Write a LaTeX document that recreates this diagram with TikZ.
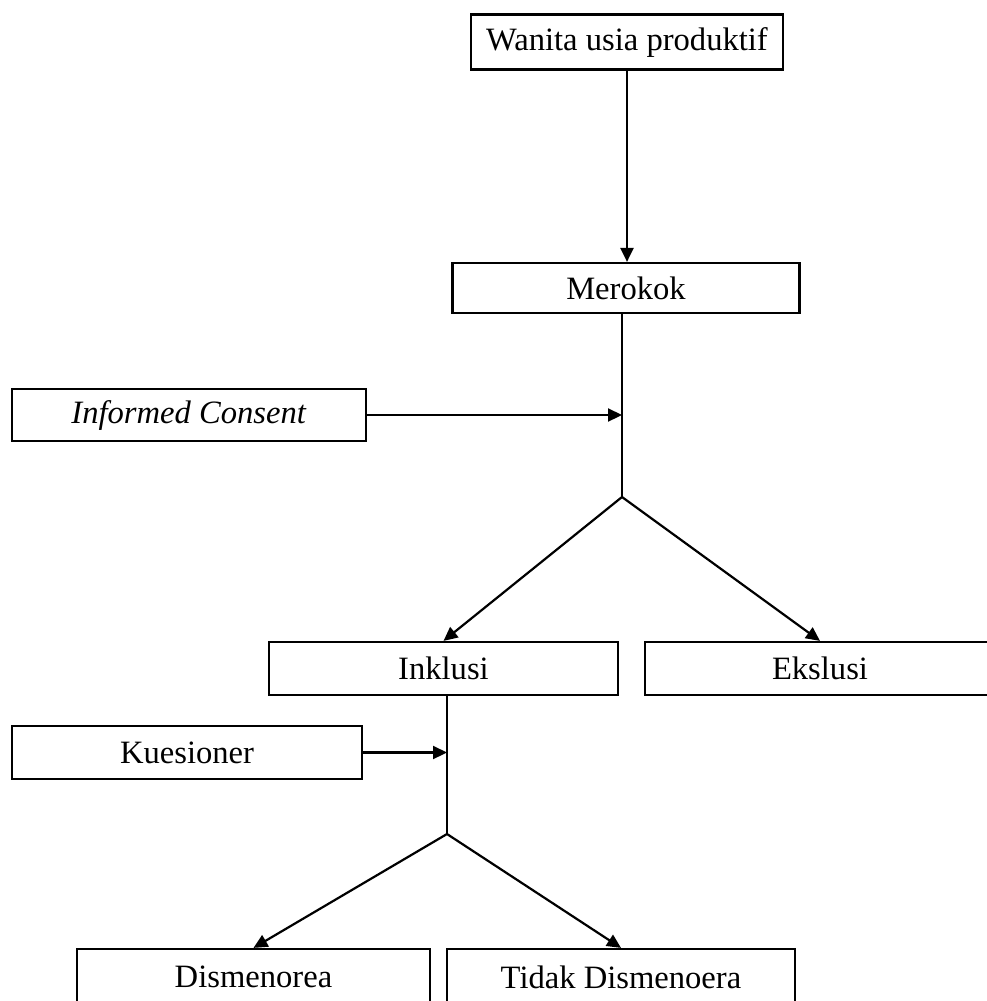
\documentclass[tikz,border=0pt]{standalone}
\usepackage{fontspec}
\setmainfont{Liberation Serif}
\usetikzlibrary{arrows.meta}
\begin{document}
\begin{tikzpicture}[x=1pt,y=-1pt,
  box/.style={draw, line width=2.2pt, minimum height=53pt, inner sep=0pt, font=\fontsize{32.6pt}{38pt}\selectfont},
  conn/.style={line width=2.2pt},
  arr/.style={conn, -{Triangle[length=14pt,width=13pt]}}]
\useasboundingbox (0,0) rectangle (987,1001);
\clip (0,0) rectangle (987,1001);
\node[box, minimum width=312pt, minimum height=55pt] (wanita) at (627,42) {Wanita usia produktif};
\node[box, minimum width=347pt, minimum height=50pt] (merokok) at (626,288) {Merokok};
\node[box, minimum width=354pt, minimum height=52pt] (ic) at (189,415) {\textit{Informed Consent}};
\node[box, minimum width=349pt] (inklusi) at (443.5,668.5) {Inklusi};
\node[box, minimum width=350pt] (ekslusi) at (820,668.5) {Ekslusi};
\node[box, minimum width=350pt] (kues) at (187,752.5) {Kuesioner};
\node[box, minimum width=353pt, minimum height=56pt] (dis) at (253.5,977) {Dismenorea};
\node[box, minimum width=348pt, minimum height=56pt] (tidak) at (621,977) {Tidak Dismenoera};
\coordinate (j1) at (622,497);
\coordinate (j2) at (447,834);
\draw[arr] (wanita.south) -- (wanita.south |- merokok.north);
\draw[conn] (merokok.south -| j1) -- (j1);
\draw[arr] (ic.east) -- (ic.east -| j1);
\draw[arr] (j1) -- (inklusi.north);
\draw[arr] (j1) -- (ekslusi.north);
\draw[conn] (inklusi.south -| j2) -- (j2);
\draw[arr] (kues.east) -- (kues.east -| j2);
\draw[arr] (j2) -- (dis.north);
\draw[arr] (j2) -- (tidak.north);
\end{tikzpicture}
\end{document}
